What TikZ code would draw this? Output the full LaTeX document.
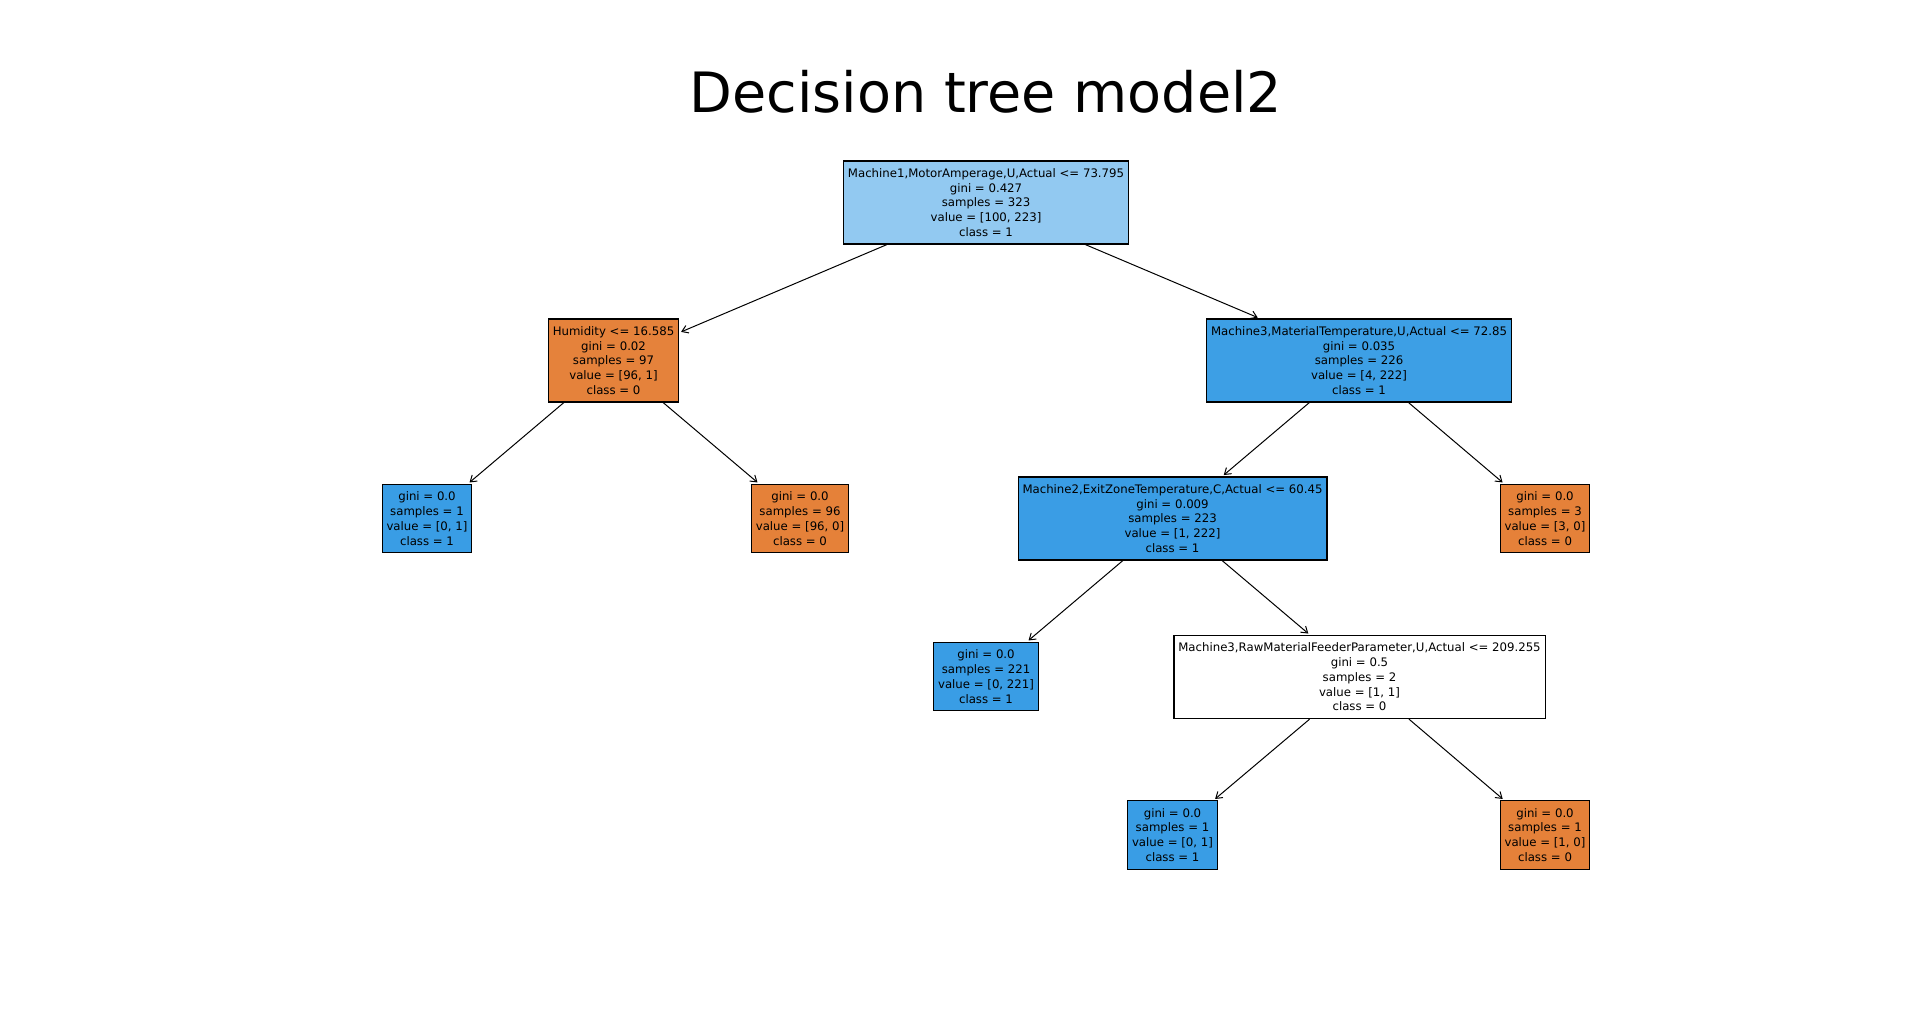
\documentclass[tikz,border=0pt]{standalone}
\usepackage{fontspec}
\setmainfont{DejaVu Sans}
\usepackage{xcolor}
\usetikzlibrary{arrows.meta}

\definecolor{rootblue}{RGB}{146,201,241}
\definecolor{leafblue}{RGB}{57,157,229}
\definecolor{matblue}{RGB}{61,159,229}
\definecolor{exitblue}{RGB}{58,157,229}
\definecolor{leaforange}{RGB}{229,129,57}
\definecolor{humorange}{RGB}{229,130,59}

\tikzset{
    treenode/.style={draw=black, line width=0.6pt, align=center,
        inner xsep=2.2pt, inner ysep=3.7pt,
        font=\fontsize{5.87}{7.4}\selectfont},
    treeedge/.style={-{Straight Barb[length=3pt,width=4pt]}, line width=0.5pt,
        shorten >=1pt}
}

\begin{document}
\begin{tikzpicture}[x=0.5pt,y=-0.5pt]
    \useasboundingbox (0,0) rectangle (1923,1027);

    % Title
    \node[anchor=base, font=\fontsize{27.8}{33}\selectfont] (title) at (986,113) {Decision tree model2};

    % Root
    \node[treenode, fill=rootblue] (root) at (986,202.5)
        {Machine1,MotorAmperage,U,Actual <= 73.795\\gini = 0.427\\samples = 323\\value = [100, 223]\\class = 1};

    % Level 1
    \node[treenode, fill=humorange] (hum) at (613.5,360.5)
        {Humidity <= 16.585\\gini = 0.02\\samples = 97\\value = [96, 1]\\class = 0};
    \node[treenode, fill=matblue] (mat) at (1359,360.5)
        {Machine3,MaterialTemperature,U,Actual <= 72.85\\gini = 0.035\\samples = 226\\value = [4, 222]\\class = 1};

    % Level 2
    \node[treenode, fill=leafblue] (leafa) at (427,518.5)
        {gini = 0.0\\samples = 1\\value = [0, 1]\\class = 1};
    \node[treenode, fill=leaforange] (leafb) at (800,518.5)
        {gini = 0.0\\samples = 96\\value = [96, 0]\\class = 0};
    \node[treenode, fill=exitblue] (exit) at (1172.5,518.5)
        {Machine2,ExitZoneTemperature,C,Actual <= 60.45\\gini = 0.009\\samples = 223\\value = [1, 222]\\class = 1};
    \node[treenode, fill=leaforange] (leafc) at (1545,518.5)
        {gini = 0.0\\samples = 3\\value = [3, 0]\\class = 0};

    % Level 3
    \node[treenode, fill=leafblue] (leafd) at (986,676.5)
        {gini = 0.0\\samples = 221\\value = [0, 221]\\class = 1};
    \node[treenode, fill=white] (raw) at (1359.5,677)
        {Machine3,RawMaterialFeederParameter,U,Actual <= 209.255\\gini = 0.5\\samples = 2\\value = [1, 1]\\class = 0};

    % Level 4
    \node[treenode, fill=leafblue] (leafe) at (1172.5,835)
        {gini = 0.0\\samples = 1\\value = [0, 1]\\class = 1};
    \node[treenode, fill=leaforange] (leaff) at (1545,835)
        {gini = 0.0\\samples = 1\\value = [1, 0]\\class = 0};

    % Arrows
    \draw[treeedge] (root) -- (hum);
    \draw[treeedge] (root) -- (mat);
    \draw[treeedge] (hum) -- (leafa);
    \draw[treeedge] (hum) -- (leafb);
    \draw[treeedge] (mat) -- (exit);
    \draw[treeedge] (mat) -- (leafc);
    \draw[treeedge] (exit) -- (leafd);
    \draw[treeedge] (exit) -- (raw);
    \draw[treeedge] (raw) -- (leafe);
    \draw[treeedge] (raw) -- (leaff);
\end{tikzpicture}
\end{document}
